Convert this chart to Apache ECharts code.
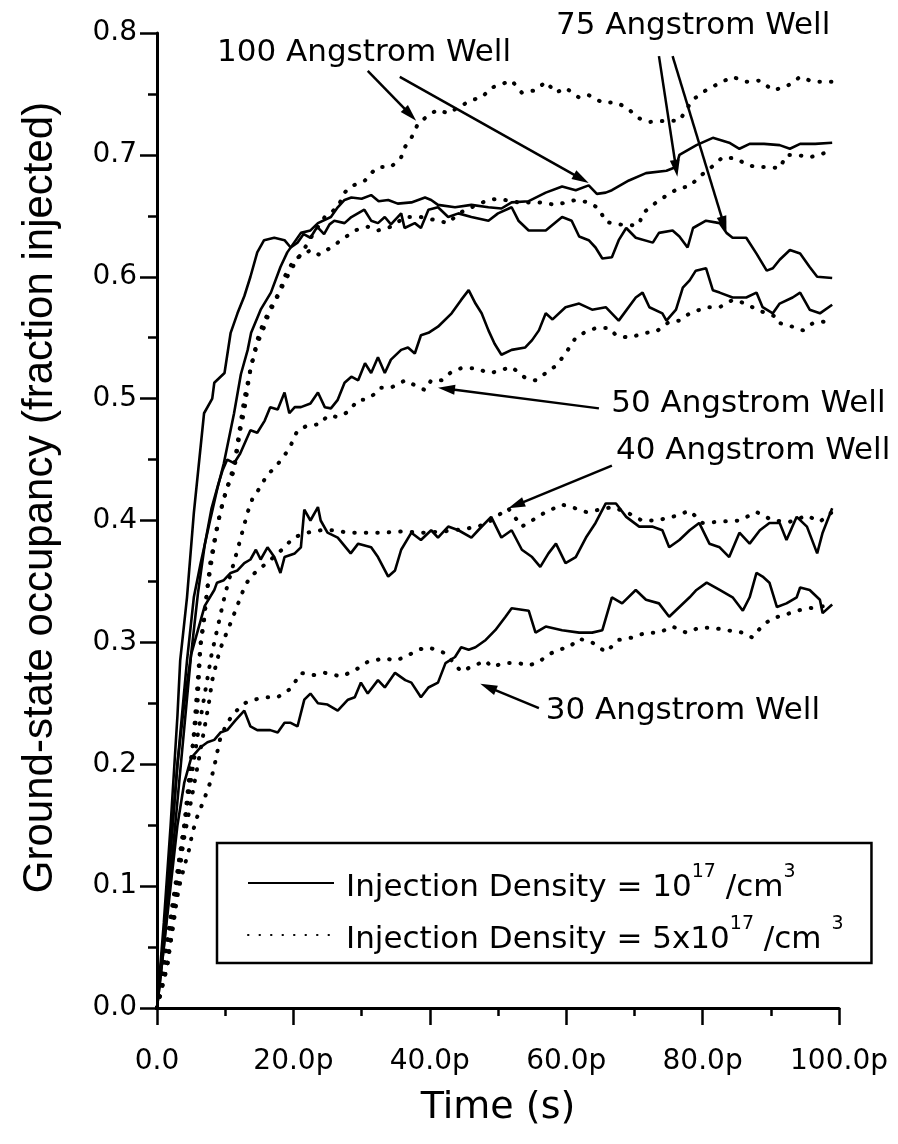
<!DOCTYPE html>
<html><head><meta charset="utf-8">
<script src="https://cdn.jsdelivr.net/npm/echarts@6/dist/echarts.min.js"></script>
<style>html,body{margin:0;padding:0;background:#fff}#c{width:898px;height:1144px}</style>
</head><body><div id="c"></div>
<script>
// ---- tick / label values ----
const xTickValues = [0, 20, 40, 60, 80, 100];
const yTickValues = [0, 0.1, 0.2, 0.3, 0.4, 0.5, 0.6, 0.7, 0.8];
const xTitle = 'Time (s)';
const yTitle = 'Ground-state occupancy (fraction injected)';
const legendSolid = 'Injection Density = 10^17 /cm^3';
const legendDotted = 'Injection Density = 5x10^17 /cm ^3';

// ---- series: [time (ps), occupancy] ----
const w100Solid = [[0,0],[1,0.06],[2,0.13],[3,0.2],[4.4,0.285],[5.4,0.337],[6.4,0.365],[7.9,0.403],[8.8,0.425],[9.8,0.447],[11.3,0.488],[12.3,0.52],[13.3,0.54],[13.8,0.554],[15.2,0.573],[16.7,0.587],[18.1,0.608],[19.1,0.62],[20.1,0.628],[21.1,0.636],[22.5,0.638],[23.6,0.644],[25.5,0.649],[26.5,0.657],[27.5,0.663],[28.5,0.665],[30,0.664],[31.4,0.667],[32.5,0.662],[33.9,0.663],[35.3,0.66],[37.3,0.661],[39.3,0.665],[40.2,0.663],[41.2,0.659],[43.7,0.657],[46.1,0.659],[48.6,0.657],[50.5,0.656],[52,0.661],[54.5,0.662],[57,0.669],[59.4,0.674],[61.4,0.671],[63.3,0.675],[64.5,0.668],[65.8,0.669],[66.7,0.671],[69.2,0.679],[71.7,0.685],[74.7,0.687],[76.1,0.69],[76.6,0.7],[79.1,0.708],[81.5,0.714],[83.9,0.71],[85.4,0.705],[86.9,0.709],[89,0.709],[91.3,0.708],[92.8,0.705],[94.3,0.709],[96.5,0.709],[99,0.71]];
const w100Dotted = [[0,0],[1.5,0.04],[2.5,0.08],[3.2,0.12],[4,0.15],[4.9,0.2],[5.9,0.245],[6.4,0.3],[6.9,0.32],[7.8,0.365],[8.8,0.395],[9.9,0.42],[11.3,0.445],[12.8,0.5],[13.8,0.526],[14.7,0.548],[15.7,0.564],[17.2,0.578],[18.1,0.589],[19.1,0.6],[20.1,0.61],[21.5,0.622],[23,0.636],[24.6,0.649],[26.5,0.657],[27.5,0.669],[28.4,0.674],[30.5,0.679],[31.4,0.685],[32.4,0.69],[34.3,0.69],[35.8,0.698],[36.3,0.706],[37.3,0.714],[38.3,0.726],[40.2,0.734],[41.2,0.737],[42.7,0.734],[44.2,0.739],[46.1,0.745],[47.6,0.747],[49,0.755],[52,0.761],[53.5,0.751],[55.5,0.753],[57,0.76],[58.5,0.751],[59.9,0.755],[61.9,0.747],[63.3,0.749],[65.3,0.743],[67.3,0.743],[68.8,0.739],[70.7,0.73],[72.2,0.727],[74.7,0.728],[76.6,0.728],[78.5,0.745],[80.5,0.753],[82.5,0.759],[84.4,0.764],[86.4,0.76],[88.4,0.761],[90.3,0.753],[92.3,0.756],[94.3,0.764],[96.2,0.76],[99,0.76]];
const w75Solid = [[0,0],[1,0.07],[2,0.15],[3,0.24],[3.4,0.285],[4.4,0.337],[5.4,0.406],[6.9,0.488],[8.1,0.5],[8.4,0.513],[9.9,0.521],[10.8,0.554],[11.8,0.57],[12.8,0.584],[13.7,0.6],[14.7,0.62],[15.7,0.63],[17.2,0.632],[18.7,0.63],[19.6,0.624],[20.6,0.628],[21.5,0.635],[22.5,0.632],[23.5,0.641],[24.5,0.635],[25.3,0.643],[26,0.646],[27.5,0.644],[28.5,0.649],[30.4,0.655],[31.4,0.646],[32.4,0.644],[33.4,0.649],[34.3,0.643],[35.8,0.652],[36.3,0.64],[37.8,0.644],[38.7,0.64],[39.8,0.655],[41.2,0.657],[42.7,0.649],[44.2,0.652],[46.1,0.649],[48.6,0.646],[50,0.652],[52,0.657],[53,0.646],[54.5,0.638],[57,0.638],[59.4,0.649],[60.8,0.646],[61.9,0.633],[63.3,0.63],[64.3,0.624],[65.3,0.615],[66.7,0.616],[67.7,0.63],[68.8,0.64],[70.2,0.632],[72.7,0.628],[73.6,0.636],[75.6,0.638],[76.6,0.633],[77.8,0.624],[78.6,0.64],[80.5,0.646],[82.5,0.644],[83.5,0.636],[84.4,0.632],[86.4,0.632],[87.9,0.619],[89.4,0.605],[90.3,0.607],[91.3,0.614],[92.8,0.622],[94.3,0.619],[95.7,0.608],[96.8,0.6],[99,0.599]];
const w75Dotted = [[0,0],[1.5,0.035],[2.5,0.075],[3.4,0.115],[4.4,0.165],[5.4,0.225],[6.3,0.294],[6.9,0.318],[7.4,0.345],[8.4,0.381],[9.3,0.408],[10.3,0.427],[11.3,0.441],[12.2,0.474],[12.8,0.49],[13.7,0.525],[14.7,0.545],[15.8,0.56],[16.7,0.575],[18,0.588],[18.7,0.6],[20.1,0.614],[21.6,0.619],[22.6,0.622],[23.8,0.618],[25.5,0.624],[27.5,0.632],[29,0.638],[30.9,0.641],[32.4,0.638],[34.3,0.641],[36.4,0.649],[38.7,0.649],[41.2,0.646],[42.7,0.644],[44.2,0.652],[46.5,0.658],[48.6,0.663],[50,0.664],[53,0.661],[56,0.661],[58.5,0.659],[61.4,0.663],[63.3,0.661],[64.8,0.656],[65.8,0.645],[67.7,0.643],[69.2,0.642],[70.7,0.643],[71.2,0.652],[73.2,0.661],[74.8,0.667],[76.6,0.673],[78.1,0.674],[79.5,0.682],[82,0.693],[82.9,0.698],[85,0.697],[86.4,0.692],[87.9,0.69],[89.8,0.69],[91.3,0.689],[92.3,0.7],[93.8,0.7],[95.7,0.698],[98.2,0.702],[99,0.702]];
const w50Solid = [[0,0],[1,0.05],[2,0.11],[3,0.17],[4,0.23],[5,0.29],[6,0.34],[7,0.38],[8,0.41],[9,0.43],[9.6,0.441],[10.3,0.45],[11.3,0.447],[12.2,0.455],[13.7,0.474],[14.7,0.472],[15.8,0.482],[16.6,0.493],[17.7,0.491],[18.7,0.505],[19.4,0.488],[20.2,0.493],[21.1,0.493],[22.5,0.496],[23.6,0.505],[24.6,0.493],[25.5,0.492],[26.5,0.499],[27.5,0.513],[28.5,0.518],[29.5,0.515],[30.5,0.529],[31.4,0.521],[32.4,0.534],[33.4,0.521],[34.3,0.532],[35.8,0.54],[36.8,0.542],[37.8,0.537],[38.7,0.552],[39.8,0.554],[41.2,0.559],[43.2,0.57],[44.6,0.581],[45.7,0.589],[46.7,0.578],[47.6,0.57],[48.6,0.556],[49.5,0.545],[50.5,0.536],[52,0.54],[54,0.542],[55,0.548],[56,0.556],[57,0.57],[58,0.565],[59.9,0.575],[61.9,0.578],[63.8,0.573],[65.8,0.575],[67.7,0.564],[70.2,0.583],[71.2,0.587],[72.2,0.575],[74.1,0.57],[74.7,0.564],[76.1,0.573],[77.1,0.591],[78.1,0.597],[79,0.605],[80.5,0.607],[81.5,0.589],[82.5,0.587],[84.4,0.583],[86.4,0.583],[87.9,0.587],[88.8,0.575],[90.3,0.57],[91.3,0.578],[93.2,0.583],[94.3,0.587],[95.7,0.573],[97.2,0.57],[99,0.577]];
const w50Dotted = [[0,0],[2,0.075],[4,0.15],[6,0.225],[8,0.29],[10,0.34],[12,0.38],[13.3,0.407],[14,0.418],[15.1,0.427],[16.1,0.437],[17.2,0.443],[18.1,0.449],[19.4,0.459],[20.6,0.474],[22.1,0.478],[23.9,0.479],[25,0.486],[26.5,0.485],[28,0.489],[29.5,0.499],[30.5,0.499],[32,0.504],[32.8,0.509],[34.3,0.509],[36.4,0.515],[37.8,0.511],[39.3,0.507],[40.2,0.515],[41.7,0.515],[43.2,0.522],[44.6,0.525],[46.7,0.525],[48.2,0.522],[49,0.521],[52,0.526],[54,0.517],[55.5,0.515],[57,0.521],[58.5,0.527],[59.9,0.537],[61.4,0.55],[62.9,0.555],[64.4,0.558],[66.3,0.558],[67.3,0.552],[69.2,0.55],[71.7,0.554],[73.2,0.555],[75.1,0.563],[76.6,0.564],[78.1,0.57],[80.6,0.575],[82.5,0.575],[84.4,0.581],[86.4,0.578],[87.9,0.573],[89.4,0.57],[90.9,0.567],[91.3,0.562],[93.2,0.559],[94.7,0.556],[96.2,0.562],[99,0.564]];
const w40Solid = [[0,0],[1,0.06],[2,0.13],[3,0.2],[4,0.25],[5,0.29],[6,0.31],[7,0.33],[8.4,0.343],[8.8,0.349],[9.8,0.351],[10.8,0.357],[11.8,0.359],[12.8,0.365],[13.7,0.368],[14.5,0.376],[15.2,0.368],[16.2,0.378],[17.2,0.37],[18.1,0.357],[18.7,0.37],[20.2,0.373],[21.1,0.378],[21.6,0.409],[22.5,0.4],[23.6,0.411],[24,0.4],[25,0.39],[26.5,0.386],[28.4,0.373],[29.5,0.381],[31.4,0.378],[32.4,0.37],[33.9,0.354],[34.9,0.359],[35.8,0.376],[37.3,0.39],[38.7,0.384],[40.2,0.392],[41.2,0.386],[42.7,0.395],[44.2,0.392],[46.1,0.386],[47.1,0.392],[49,0.403],[50.5,0.386],[52,0.392],[53.5,0.376],[55,0.37],[56.2,0.362],[57.4,0.373],[58.5,0.381],[59.9,0.365],[61.4,0.37],[62.9,0.386],[64.3,0.398],[65.8,0.414],[67.3,0.414],[68.8,0.403],[70.7,0.395],[72.6,0.395],[74.1,0.392],[75.1,0.378],[76.6,0.384],[78.1,0.392],[79.5,0.398],[81,0.381],[82.5,0.378],[83.9,0.37],[85.4,0.39],[86.9,0.381],[88.4,0.392],[89.8,0.398],[91.3,0.398],[92.3,0.384],[93.8,0.403],[95.3,0.395],[96.8,0.373],[97.6,0.39],[99,0.41]];
const w40Dotted = [[0,0],[2,0.07],[4,0.14],[6,0.2],[7.1,0.234],[7.6,0.25],[8.1,0.269],[8.8,0.285],[9.3,0.295],[10,0.305],[10.8,0.316],[12.8,0.345],[13.7,0.354],[16.7,0.368],[18.7,0.378],[20,0.386],[22,0.39],[24,0.392],[26,0.392],[28,0.39],[30,0.39],[33,0.39],[36,0.391],[39,0.39],[42,0.391],[45,0.393],[47.1,0.395],[49,0.4],[51.5,0.41],[53.5,0.395],[55,0.4],[57,0.407],[59.4,0.413],[60.8,0.411],[62.9,0.407],[65,0.409],[66.7,0.411],[68.8,0.407],[71.1,0.4],[73.2,0.4],[75.6,0.403],[78.1,0.408],[80,0.398],[82.5,0.399],[85.4,0.4],[87.9,0.407],[90.3,0.4],[92.8,0.399],[95.3,0.404],[97.2,0.399],[99,0.407]];
const w30Solid = [[0,0],[1,0.05],[2,0.1],[3,0.15],[4,0.185],[5,0.205],[5.6,0.209],[6.4,0.214],[7.4,0.218],[8.4,0.22],[9.3,0.226],[10.3,0.228],[11.5,0.236],[12.8,0.244],[13.7,0.231],[14.7,0.228],[16.6,0.228],[17.7,0.226],[18.7,0.234],[19.6,0.234],[20.6,0.231],[21.6,0.253],[22.5,0.258],[23.6,0.25],[25,0.249],[26.5,0.244],[28,0.253],[29,0.255],[29.9,0.267],[30.9,0.258],[32.4,0.269],[33.4,0.263],[34.9,0.275],[36.4,0.269],[37.3,0.267],[38.7,0.255],[39.8,0.263],[41.2,0.267],[42.3,0.283],[43.7,0.288],[44.6,0.296],[45.7,0.294],[46.7,0.296],[48.2,0.302],[49.6,0.31],[51.1,0.321],[52,0.328],[54.5,0.326],[55.5,0.308],[57,0.313],[59.4,0.31],[61.9,0.308],[63.8,0.308],[65.3,0.31],[66.7,0.337],[68.2,0.332],[70.2,0.343],[71.7,0.335],[73.6,0.332],[75.1,0.321],[76.6,0.329],[78.1,0.337],[79.1,0.343],[80.6,0.349],[82.5,0.343],[84.4,0.337],[85.9,0.326],[86.9,0.337],[87.9,0.357],[88.8,0.354],[89.8,0.349],[90.9,0.329],[92.3,0.332],[93.8,0.337],[94.3,0.345],[95.7,0.343],[97.2,0.335],[97.6,0.324],[99,0.331]];
const w30Dotted = [[0,0],[1.5,0.034],[1.9,0.05],[2.5,0.072],[2.9,0.089],[3.4,0.103],[4,0.116],[4.7,0.13],[5.2,0.144],[5.9,0.157],[6.9,0.171],[7.8,0.185],[8.4,0.198],[8.8,0.209],[9.3,0.222],[10.3,0.234],[11.3,0.242],[12.8,0.25],[14.3,0.253],[15.8,0.255],[17.7,0.255],[19.6,0.262],[21.1,0.275],[22.8,0.273],[24.6,0.275],[27,0.272],[29,0.277],[30.9,0.284],[33.4,0.287],[34.9,0.285],[36.4,0.288],[38.3,0.294],[39.8,0.296],[42.3,0.291],[44.6,0.276],[46.1,0.28],[48.2,0.285],[49,0.28],[51,0.283],[53,0.283],[54.5,0.281],[56,0.284],[57.4,0.29],[58.9,0.294],[60.4,0.296],[61.9,0.303],[63.8,0.3],[65.8,0.292],[67.7,0.302],[69.7,0.304],[71.7,0.308],[73.6,0.308],[75.6,0.313],[77.6,0.308],[79.5,0.312],[81.5,0.312],[83.5,0.31],[85.9,0.308],[87.3,0.304],[88.8,0.314],[90.3,0.32],[91.8,0.322],[93.8,0.326],[95.7,0.328],[98.2,0.33],[99,0.332]];

// ---- annotations (data coordinates) ----
const annLabels = [
  {text: '100 Angstrom Well', t: 8.8, v: 0.784},
  {text: '75 Angstrom Well', t: 58.5, v: 0.806},
  {text: '50 Angstrom Well', t: 66.6, v: 0.496},
  {text: '40 Angstrom Well', t: 67.3, v: 0.457},
  {text: '30 Angstrom Well', t: 57.0, v: 0.244}
];
const annArrows = [
  [[30.9, 0.769], [38.0, 0.728]],
  [[35.6, 0.764], [63.3, 0.677]],
  [[73.6, 0.781], [76.3, 0.682]],
  [[75.6, 0.781], [83.5, 0.636]],
  [[64.8, 0.492], [41.2, 0.509]],
  [[66.7, 0.445], [51.5, 0.410]],
  [[56.0, 0.246], [47.4, 0.266]]
];

const FONT = '"DejaVu Sans", "Liberation Sans", Arial, sans-serif';
const solidStyle = {color: '#000', width: 2.6, type: 'solid'};
const dottedStyle = {color: '#000', width: 4, type: [0.5, 11], cap: 'round'};

function mk(data, dotted) {
  return {
    type: 'line', name: dotted ? legendDotted : legendSolid, data: data,
    symbol: 'none', showSymbol: false, smooth: false, animation: false,
    lineStyle: dotted ? dottedStyle : solidStyle, itemStyle: {color: '#000'},
    emphasis: {disabled: true}, silent: true
  };
}

const option = {
  backgroundColor: '#fff',
  animation: false,
  grid: {left: 157, right: 59, top: 33, bottom: 136, containLabel: false},
  xAxis: {
    type: 'value', min: 0, max: 100, interval: 20,
    name: xTitle, nameLocation: 'middle', nameGap: 81,
    nameTextStyle: {fontFamily: FONT, fontSize: 38, color: '#000'},
    axisLine: {show: true, lineStyle: {color: '#000', width: 3}},
    axisTick: {show: true, length: 17, lineStyle: {color: '#000', width: 2.5}},
    minorTick: {show: true, splitNumber: 2, length: 8, lineStyle: {color: '#000', width: 2.5}},
    splitLine: {show: false},
    axisLabel: {fontFamily: FONT, fontSize: 28, color: '#000', margin: 40,
      formatter: v => xTickValues.indexOf(v) < 0 ? '' : (v === 0 ? '0.0' : v.toFixed(1) + 'p')}
  },
  yAxis: {
    type: 'value', min: 0, max: 0.8, interval: 0.1,
    name: yTitle, nameLocation: 'middle', nameGap: 96, nameRotate: 90,
    nameTextStyle: {fontFamily: '"Liberation Sans", Arial, sans-serif', fontSize: 42, color: '#000', padding: [0, 0, 0, 46]},
    axisLine: {show: true, lineStyle: {color: '#000', width: 3}},
    axisTick: {show: true, length: 17, lineStyle: {color: '#000', width: 2.5}},
    minorTick: {show: true, splitNumber: 2, length: 9, lineStyle: {color: '#000', width: 2.5}},
    splitLine: {show: false},
    axisLabel: {fontFamily: FONT, fontSize: 28, color: '#000', margin: 20,
      formatter: v => v.toFixed(1)}
  },
  legend: {
    data: [legendSolid, legendDotted], selectedMode: false,
    orient: 'vertical', left: 217, top: 843,
    padding: [20, 28, 8, 30], itemGap: 12, itemWidth: 86, itemHeight: 14,
    borderColor: '#000', borderWidth: 2.5, backgroundColor: '#fff',
    itemStyle: {opacity: 0, color: 'rgba(0,0,0,0)', borderWidth: 0},
    textStyle: {color: '#000', padding: [0, 0, 0, 7],
      rich: {
        t: {fontFamily: FONT, fontSize: 31, color: '#000', lineHeight: 40, verticalAlign: 'bottom'},
        s: {fontFamily: FONT, fontSize: 19, color: '#000', lineHeight: 20, verticalAlign: 'top'}
      }},
    formatter: function (name) {
      const parts = name.split('^');
      let out = '{t|' + parts[0] + '}';
      const m = parts[1].match(/^(\d+)(.*)$/);
      out += '{s|' + m[1] + '}{t|' + m[2] + '}';
      out += '{s|' + parts[2] + '}';
      return out;
    }
  },
  series: [
    mk(w100Dotted, true), mk(w75Dotted, true), mk(w50Dotted, true), mk(w40Dotted, true), mk(w30Dotted, true),
    mk(w100Solid, false), mk(w75Solid, false), mk(w50Solid, false), mk(w40Solid, false), mk(w30Solid, false)
  ]
};

const chart = echarts.init(document.getElementById('c'), null, {renderer: 'canvas'});
chart.setOption(option);

const P = p => chart.convertToPixel({gridIndex: 0}, p);
const g = [];
annLabels.forEach(a => {
  const p = P([a.t, a.v]);
  g.push({type: 'text', x: p[0], y: p[1], z: 10,
    style: {text: a.text, fontFamily: FONT, fontSize: 31, fill: '#000', align: 'left', verticalAlign: 'middle'}});
});
annArrows.forEach(a => {
  const p0 = P(a[0]), p1 = P(a[1]);
  const dx = p1[0] - p0[0], dy = p1[1] - p0[1], L = Math.hypot(dx, dy);
  const ux = dx / L, uy = dy / L, hl = 17, hw = 5;
  const bx = p1[0] - ux * hl, by = p1[1] - uy * hl;
  g.push({type: 'line', z: 10, shape: {x1: p0[0], y1: p0[1], x2: bx + ux * 2, y2: by + uy * 2},
    style: {stroke: '#000', lineWidth: 2.5}});
  g.push({type: 'polygon', z: 10, shape: {points: [[p1[0], p1[1]], [bx - uy * hw, by + ux * hw], [bx + uy * hw, by - ux * hw]]},
    style: {fill: '#000'}});
});
chart.setOption({graphic: g});
</script>
</body></html>
